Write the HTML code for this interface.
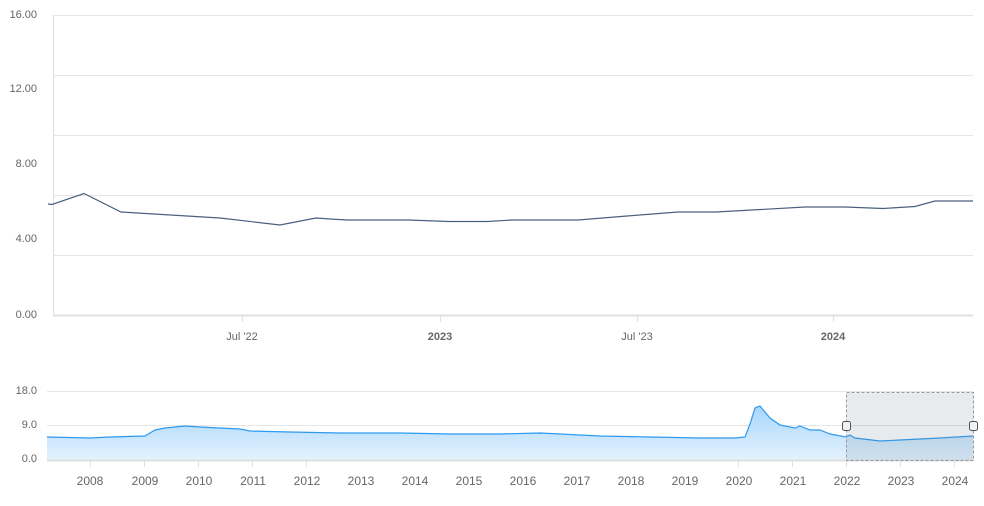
<!DOCTYPE html>
<html><head><meta charset="utf-8"><style>
html,body{margin:0;padding:0;background:#fff;width:984px;height:506px;overflow:hidden}
svg text{font-family:"Liberation Sans",sans-serif;font-size:11px;fill:#666}
</style></head><body>
<svg width="984" height="506" viewBox="0 0 984 506" xmlns="http://www.w3.org/2000/svg">
<g stroke="#e6e6e6" stroke-width="1">
<line x1="53" y1="15.5" x2="973" y2="15.5"/>
<line x1="53" y1="75.5" x2="973" y2="75.5"/>
<line x1="53" y1="135.5" x2="973" y2="135.5"/>
<line x1="53" y1="195.5" x2="973" y2="195.5"/>
<line x1="53" y1="255.5" x2="973" y2="255.5"/>
</g>
<line x1="53.5" y1="15" x2="53.5" y2="316" stroke="#e0e0e0"/>
<line x1="53" y1="315.5" x2="973" y2="315.5" stroke="#e0e0e0" stroke-width="2"/>
<g stroke="#e0e0e0"><line x1="242.5" y1="316" x2="242.5" y2="322"/><line x1="440.5" y1="316" x2="440.5" y2="322"/><line x1="637.5" y1="316" x2="637.5" y2="322"/><line x1="833.5" y1="316" x2="833.5" y2="322"/></g>
<g text-anchor="end">
<text x="37" y="18">16.00</text><text x="37" y="92">12.00</text><text x="37" y="167">8.00</text><text x="37" y="242">4.00</text><text x="37" y="318">0.00</text>
</g>
<g text-anchor="middle">
<text x="242" y="340">Jul '22</text><text x="440" y="340" font-weight="bold">2023</text><text x="637" y="340">Jul '23</text><text x="833" y="340" font-weight="bold">2024</text>
</g>
<polyline fill="none" stroke="#4a5f80" stroke-width="1.2" points="48,204 52,204.5 84,193.5 121,212 220,218 280,225 316,218 330,219 347,220 408,220 449,221.5 487,221.5 512,220 578,220 627,216 678,212 716,212 805,207 845,207 883,208.5 915,206.5 935,201 973,201"/>
<!-- navigator -->
<defs><linearGradient id="g" x1="0" y1="0" x2="0" y2="1"><stop offset="0" stop-color="#a8d6fb"/><stop offset="1" stop-color="#e3f2fe"/></linearGradient></defs>
<g stroke="#e6e6e6"><line x1="47" y1="391.5" x2="973" y2="391.5"/><line x1="47" y1="425.5" x2="973" y2="425.5"/></g>
<g text-anchor="end"><text x="37" y="394">18.0</text><text x="37" y="428">9.0</text><text x="37" y="462">0.0</text></g>
<polygon fill="url(#g)" points="47,460 47,437 90,438 110,437 145,436 155,430 165,428 175,427 185,426 200,427 240,429 250,431 290,432 340,433 400,433 450,434 500,434 540,433 600,436 650,437 700,438 735,438 745,437 750,424 755,408 760,406 770,418 780,425 795,428 800,426 810,430 820,430 830,434 846,437 850,435 855,438 880,441 900,440 940,438 973,436 973,460"/>
<polyline fill="none" stroke="#2d9af0" stroke-width="1.2" points="47,437 90,438 110,437 145,436 155,430 165,428 175,427 185,426 200,427 240,429 250,431 290,432 340,433 400,433 450,434 500,434 540,433 600,436 650,437 700,438 735,438 745,437 750,424 755,408 760,406 770,418 780,425 795,428 800,426 810,430 820,430 830,434 846,437 850,435 855,438 880,441 900,440 940,438 973,436"/>
<line x1="47" y1="460.5" x2="973" y2="460.5" stroke="#e0e0e0" stroke-width="2"/>
<rect x="846.5" y="392.5" width="127" height="68" fill="rgba(102,120,133,0.15)" stroke="#999" stroke-dasharray="3,2"/>
<rect x="842.5" y="421.5" width="8" height="9" rx="2" fill="#f2f2f2" stroke="#555"/>
<rect x="969.5" y="421.5" width="8" height="9" rx="2" fill="#f2f2f2" stroke="#555"/>
<g stroke="#e0e0e0"><line x1="90.5" y1="461" x2="90.5" y2="467"/><line x1="144.5" y1="461" x2="144.5" y2="467"/><line x1="198.5" y1="461" x2="198.5" y2="467"/><line x1="252.5" y1="461" x2="252.5" y2="467"/><line x1="306.5" y1="461" x2="306.5" y2="467"/><line x1="738.5" y1="461" x2="738.5" y2="467"/><line x1="792.5" y1="461" x2="792.5" y2="467"/><line x1="846.5" y1="461" x2="846.5" y2="467"/><line x1="900.5" y1="461" x2="900.5" y2="467"/><line x1="954.5" y1="461" x2="954.5" y2="467"/></g>
<g text-anchor="middle">
<text x="90" y="485" style="font-size:12px">2008</text><text x="145" y="485" style="font-size:12px">2009</text><text x="199" y="485" style="font-size:12px">2010</text><text x="253" y="485" style="font-size:12px">2011</text><text x="307" y="485" style="font-size:12px">2012</text><text x="361" y="485" style="font-size:12px">2013</text><text x="415" y="485" style="font-size:12px">2014</text><text x="469" y="485" style="font-size:12px">2015</text><text x="523" y="485" style="font-size:12px">2016</text><text x="577" y="485" style="font-size:12px">2017</text><text x="631" y="485" style="font-size:12px">2018</text><text x="685" y="485" style="font-size:12px">2019</text><text x="739" y="485" style="font-size:12px">2020</text><text x="793" y="485" style="font-size:12px">2021</text><text x="847" y="485" style="font-size:12px">2022</text><text x="901" y="485" style="font-size:12px">2023</text><text x="955" y="485" style="font-size:12px">2024</text>
</g>
</svg>
</body></html>
